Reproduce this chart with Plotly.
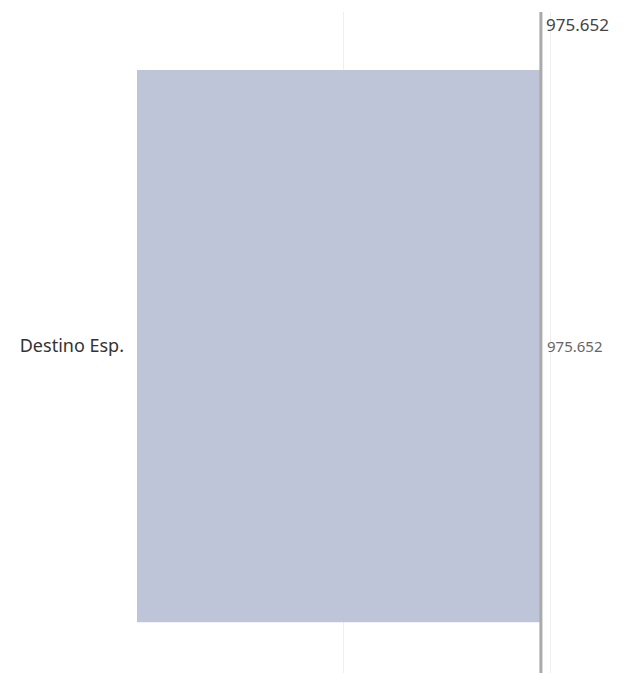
import plotly.graph_objects as go

categories = ["Destino Esp."]
values = [975.652]
reference_value = 975.652
value_labels = ["975.652"]
reference_label = "975.652"
grid_ticks = [0, 500, 1000]

fig = go.Figure()
fig.add_trace(go.Bar(
    y=categories,
    x=values,
    orientation="h",
    width=1,
    marker=dict(color="#bfc5d9", line=dict(width=0)),
    hoverinfo="skip",
))

# data label next to bar end
fig.add_annotation(
    x=values[0], y=0, xref="x", yref="y",
    text=value_labels[0], showarrow=False,
    xanchor="left", yanchor="middle", xshift=4,
    font=dict(family="Noto Sans", size=15, color="#666666"),
)

# reference line
fig.add_shape(
    type="line", xref="x", yref="paper",
    x0=reference_value, x1=reference_value, y0=0, y1=1,
    line=dict(color="#aaaaaa", width=3),
)
fig.add_annotation(
    x=reference_value, y=1, xref="x", yref="paper",
    text=reference_label, showarrow=False,
    xanchor="left", yanchor="middle", xshift=3, yshift=-12,
    font=dict(family="Noto Sans", size=17, color="#444444"),
)

fig.update_layout(
    width=626, height=665,
    margin=dict(l=129, r=14, t=4, b=0),
    paper_bgcolor="white", plot_bgcolor="white",
    showlegend=False,
    xaxis=dict(
        range=[0, 1166.7],
        tickvals=grid_ticks,
        showticklabels=False,
        showgrid=True, gridcolor="#efefef", gridwidth=1,
        zeroline=False, showline=False, fixedrange=True,
    ),
    yaxis=dict(
        range=[-0.592, 0.605],
        showgrid=False, zeroline=False, showline=False,
        ticks="", ticklabelstandoff=12,
        tickfont=dict(family="Noto Sans", size=18, color="#333333"),
    ),
)

fig.write_html("out.html")
